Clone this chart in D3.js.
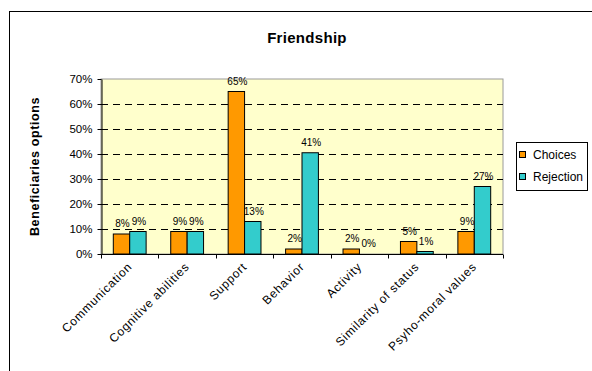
<!DOCTYPE html>
<html><head><meta charset="utf-8">
<script src="https://cdn.jsdelivr.net/npm/d3@7"></script>
<style>body{margin:0;background:#fff}svg{display:block}text{font-family:"Liberation Sans",Arial,sans-serif}</style>
</head><body>
<svg id="c" width="592" height="371"></svg>
<script>
const categories = ["Communication","Cognitive abilities","Support","Behavior","Activity","Similarity of status","Psyho-moral values"];
const seriesNames = ["Choices","Rejection"];
const choices = [8, 9, 65, 2, 2, 5, 9];
const rejection = [9, 9, 13, 40.5, 0, 1, 27];
const yTicks = [0,10,20,30,40,50,60,70];
const colors = ["#FF9900","#33CCCC"];

const svg = d3.select("#c");
const L = 101, R = 503, T = 79, B = 254;

// outer frame
svg.append("rect").attr("x",9.5).attr("y",11.5).attr("width",700).attr("height",500)
  .attr("fill","#fff").attr("stroke","#000").attr("stroke-width",1);

const x = d3.scaleBand().domain(categories).range([L,R]).paddingInner(0).paddingOuter(0);
const xs = d3.scaleBand().domain(seriesNames).range([0,x.bandwidth()]).paddingInner(0).paddingOuter(0.75);
const y = d3.scaleLinear().domain([0,70]).range([B,T]);

// plot area
svg.append("rect").attr("x",L).attr("y",T).attr("width",R-L).attr("height",B-T)
  .attr("fill","#FFFFCC").attr("stroke","#9a9a9a").attr("stroke-width",1);

// grid
svg.append("g").selectAll("line").data(yTicks.filter(v=>v>0&&v<70)).join("line")
  .attr("x1",L).attr("x2",R).attr("y1",d=>Math.round(y(d))+0.5).attr("y2",d=>Math.round(y(d))+0.5)
  .attr("stroke","#000").attr("stroke-dasharray","7,5");

// bars
const data = [];
categories.forEach((c,i)=>{ data.push({c,s:"Choices",v:choices[i]}); data.push({c,s:"Rejection",v:rejection[i]}); });
svg.append("g").selectAll("rect").data(data).join("rect")
  .attr("x",d=>x(d.c)+xs(d.s)).attr("width",xs.bandwidth())
  .attr("y",d=>y(d.v)).attr("height",d=>B-y(d.v))
  .attr("fill",d=>colors[seriesNames.indexOf(d.s)]).attr("stroke","#000").attr("stroke-width",1);

// labels
svg.append("g").selectAll("text").data(data).join("text")
  .attr("x",d=>x(d.c)+xs(d.s)+xs.bandwidth()/2+1).attr("y",d=>y(d.v)-7)
  .attr("text-anchor","middle").attr("font-size","10px").attr("fill","#000")
  .text(d=>Math.round(d.v)+"%");

// y axis
const ya = svg.append("g").attr("transform",`translate(${L+0.5},0)`)
  .call(d3.axisLeft(y).tickValues(yTicks).tickFormat(d=>d+"%").tickSize(4).tickSizeOuter(0));
ya.select(".domain").attr("stroke","#000");
ya.selectAll("text").attr("font-size","11.5px").attr("font-family","Liberation Sans, Arial, sans-serif").attr("fill","#000").attr("dx","-2");

// x axis
const xa = svg.append("g").attr("transform",`translate(0,${B+0.5})`);
xa.append("line").attr("x1",L).attr("x2",R).attr("stroke","#000");
xa.selectAll("line.t").data(d3.range(categories.length+1)).join("line").attr("class","t")
  .attr("x1",i=>Math.round(L+i*x.step())+0.5).attr("x2",i=>Math.round(L+i*x.step())+0.5)
  .attr("y1",0).attr("y2",4).attr("stroke","#000");
xa.selectAll("text").data(categories).join("text")
  .attr("transform",d=>`translate(${x(d)+x.bandwidth()/2+3},${13}) rotate(-45)`)
  .attr("text-anchor","end").attr("font-size","12px").attr("letter-spacing","0.75px").attr("fill","#000").text(d=>d);

// title
svg.append("text").attr("x",307).attr("y",43).attr("text-anchor","middle")
  .attr("font-size","15px").attr("font-weight","bold").attr("letter-spacing","0.3px").text("Friendship");

// y title
svg.append("text").attr("transform",`translate(39,${(T+B)/2}) rotate(-90)`).attr("text-anchor","middle")
  .attr("font-size","12.5px").attr("font-weight","bold").attr("letter-spacing","0.6px").text("Beneficiaries options");

// legend
const lg = svg.append("g");
lg.append("rect").attr("x",516.5).attr("y",142.5).attr("width",71).attr("height",48)
  .attr("fill","#fff").attr("stroke","#000");
seriesNames.forEach((s,i)=>{
  lg.append("rect").attr("x",519.5).attr("y",151.5+i*22).attr("width",6).attr("height",6)
    .attr("fill",colors[i]).attr("stroke","#000");
  lg.append("text").attr("x",533).attr("y",159+i*22).attr("font-size","12px").text(s);
});
</script>
</body></html>
